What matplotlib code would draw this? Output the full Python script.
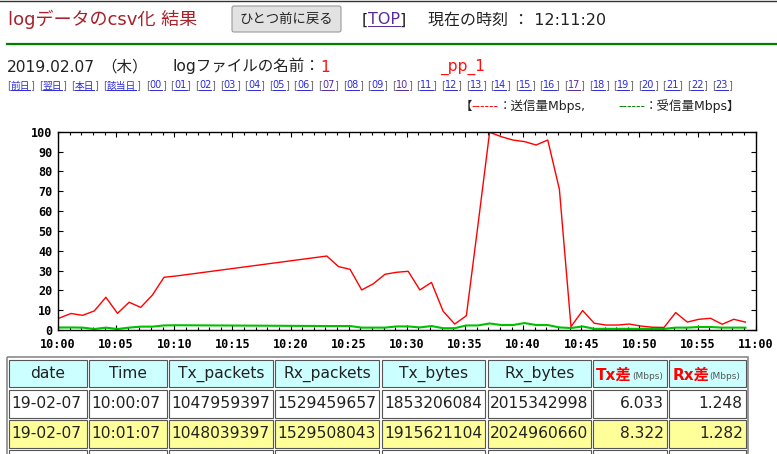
import matplotlib
matplotlib.use('Agg')
import matplotlib.pyplot as plt
from matplotlib.patches import Rectangle, FancyBboxPatch
from matplotlib.ticker import MultipleLocator, FuncFormatter

plt.rcParams['font.family'] = ['DejaVu Sans', 'Noto Sans CJK JP']

# --- chart data ---
times = ["10:00:07", "10:01:07", "10:02:07", "10:03:07", "10:04:07", "10:05:07",
         "10:06:07", "10:07:07", "10:08:07", "10:09:07", "10:10:07",
         "10:23:07", "10:24:07", "10:25:07", "10:26:07", "10:27:07", "10:28:07",
         "10:29:07", "10:30:07", "10:31:07", "10:32:07", "10:33:07", "10:34:07",
         "10:35:07", "10:36:07", "10:37:07", "10:38:07", "10:39:07", "10:40:07",
         "10:41:07", "10:42:07", "10:43:07", "10:44:07", "10:45:07", "10:46:07",
         "10:47:07", "10:48:07", "10:49:07", "10:50:07", "10:51:07", "10:52:07",
         "10:53:07", "10:54:07", "10:55:07", "10:56:07", "10:57:07", "10:58:07",
         "10:59:07"]
tx_mbps = [6.033, 8.322, 7.4, 9.6, 16.5, 8.4, 14.0, 11.4, 17.6, 26.6, 27.2,
           37.3, 32.0, 30.6, 20.2, 23.3, 28.1, 29.1, 29.6, 20.2, 24.0, 9.5, 3.0,
           7.2, 53.0, 99.7, 97.5, 95.8, 95.0, 93.3, 95.8, 71.0, 1.7, 9.8, 3.4,
           2.5, 2.5, 3.0, 2.0, 1.4, 1.3, 8.8, 4.0, 5.4, 5.9, 2.9, 5.4, 4.0]
rx_mbps = [1.248, 1.282, 1.2, 0.5, 1.2, 0.5, 1.2, 1.7, 1.7, 2.3, 2.4,
           2.0, 2.0, 2.0, 1.2, 1.2, 1.2, 1.8, 1.8, 1.3, 2.0, 0.9, 0.9,
           2.3, 2.3, 3.3, 2.5, 2.5, 3.5, 2.5, 2.5, 1.3, 1.0, 1.8, 0.6,
           0.6, 0.6, 0.6, 0.6, 0.6, 0.6, 1.2, 1.2, 1.5, 1.5, 1.2, 1.2, 1.2]

# --- table data ---
headers = ["date", "Time", "Tx_packets", "Rx_packets", "Tx_bytes", "Rx_bytes", "Tx差", "Rx差"]
row1 = ["19-02-07", "10:00:07", "1047959397", "1529459657", "1853206084", "2015342998", "6.033", "1.248"]
row2 = ["19-02-07", "10:01:07", "1048039397", "1529508043", "1915621104", "2024960660", "8.322", "1.282"]

day_links = ["前日", "翌日", "本日", "該当日"]
hour_links = ["00", "01", "02", "03", "04", "05", "06", "07", "08", "09", "10", "11",
              "12", "13", "14", "15", "16", "17", "18", "19", "20", "21", "22", "23"]

W, H = 777, 454
fig = plt.figure(figsize=(W / 100, H / 100), dpi=100)
bg = fig.add_axes([0, 0, 1, 1])
bg.set_xlim(0, W)
bg.set_ylim(H, 0)
bg.set_autoscale_on(False)
bg.axis('off')
rend = fig.canvas.get_renderer()

TXT = '#222222'
LINK = '#2a2adf'
VISITED = '#5a2a9a'


def put(x, y, s, size, color=TXT, underline=False, **kw):
    t = bg.text(x, y, s, fontsize=size, color=color, va='baseline', ha='left', **kw)
    bb = t.get_window_extent(rend)
    x1 = x + bb.width
    if underline:
        bg.plot([x, x1], [y + 1.5, y + 1.5], color=color, lw=0.7)
    return x1


# top strip
bg.plot([0, W], [0.5, 0.5], color='#333333', lw=1)
put(8, 25, "logデータのcsv化 結果", 13, color='#a8222a')

btn = FancyBboxPatch((232, 6), 109, 26, boxstyle="round,pad=0,rounding_size=2",
                     facecolor='#e2e2e2', edgecolor='#9a9a9a', lw=0.8)
bg.add_patch(btn)
bg.text(286.5, 19.5, "ひとつ前に戻る", fontsize=9.6, color=TXT, ha='center', va='center')

x = put(362, 24.5, "[", 11.5)
x = put(x - 0.5, 24.5, "TOP", 11.5, color=VISITED, underline=True)
put(x - 0.5, 24.5, "]", 11.5)
put(428, 24.5, "現在の時刻 ： 12:11:20", 11.5)

bg.plot([7, W], [44.3, 44.3], color='#008000', lw=1.6)

# date / file line
put(7, 71.5, "2019.02.07", 11.2)
put(101, 71.5, "（木）", 11.2, family=['Noto Sans CJK JP'])
x = put(172, 71.5, "logファイルの名前：", 11.2)
put(x + 1, 71.5, "1", 11.2, color='#ff1010')
put(440, 70.5, "_pp_1", 11.2, color='#ff1010')

# link row
link_x = [7, 39, 71, 103]
for lx, name in zip(link_x, day_links):
    x = put(lx, 88.5, "[", 7, color='#666666')
    x = put(x - 0.2, 88.5, name, 7, color=LINK, underline=True)
    put(x - 0.2, 88.5, "]", 7, color='#666666')
for i, name in enumerate(hour_links):
    c = VISITED if name in ("07", "10", "17") else LINK
    x = put(146 + i * 24.6, 88.5, "[", 7, color='#666666')
    x = put(x - 0.2, 88.5, name, 7, color=c, underline=True)
    put(x - 0.2, 88.5, "]", 7, color='#666666')

# legend line
x = put(460, 110, "【", 9)
x = put(x - 1, 110, "------", 9, color='#ff0000')
put(x, 110, "：送信量Mbps,", 9)
x = put(618, 110, "------", 9, color='#008000')
put(x, 110, "：受信量Mbps】", 9)

# --- gnuplot style chart ---
ax = fig.add_axes([58 / W, (H - 330) / H, 697.7 / W, 198.3 / H])


def to_min(s):
    h, m, sec = s.split(':')
    return (int(h) - 10) * 60 + int(m) + int(sec) / 60


xm = [to_min(t) for t in times]
ax.plot(xm, rx_mbps, color='#00c000', lw=1.5)
ax.plot(xm, tx_mbps, color='#ff0000', lw=1.0)
ax.set_xlim(0, 60)
ax.set_ylim(0, 100)
ax.xaxis.set_major_locator(MultipleLocator(5))
ax.xaxis.set_minor_locator(MultipleLocator(1))
ax.yaxis.set_major_locator(MultipleLocator(10))
ax.xaxis.set_major_formatter(FuncFormatter(lambda v, p: "%d:%02d" % (10 + int(v) // 60, int(v) % 60)))
ax.tick_params(which='both', direction='in', top=True, right=True, width=0.8)
ax.tick_params(which='major', length=3.5)
ax.tick_params(which='minor', length=2)
ax.tick_params(axis='y', pad=4)
ax.tick_params(axis='x', pad=6)
for lab in ax.get_xticklabels() + ax.get_yticklabels():
    lab.set_fontfamily('DejaVu Sans Mono')
    lab.set_fontweight('bold')
    lab.set_fontsize(8.5)
for sp in ax.spines.values():
    sp.set_linewidth(1)

# --- table ---
col_x = [(9.3, 86.7), (89.3, 166.7), (169.3, 272.7), (275.3, 379), (381.7, 485),
         (487.7, 591), (593.3, 666.7), (669.3, 745.7)]
row_y = [(360, 387.3), (390, 417.7), (420, 447.7), (450, 478)]
row_bg = ['#ccffff', '#ffffff', '#ffff99', '#ffffff']

bg.add_patch(Rectangle((6.7, 357.3), 748.3 - 6.7, 120, facecolor='none',
                       edgecolor='#8a8a8a', lw=1.2))
for (y0, y1), fc in zip(row_y, row_bg):
    for (x0, x1) in col_x:
        bg.add_patch(Rectangle((x0, y0), x1 - x0, y1 - y0, facecolor=fc,
                               edgecolor='#555555', lw=0.8))

for i, (x0, x1) in enumerate(col_x):
    yc = 373.7
    if i < 6:
        bg.text((x0 + x1) / 2, yc, headers[i], fontsize=11.2, color=TXT, ha='center', va='center')
    else:
        xx = put(x0 + 3, 379.5, headers[i], 11, color='#ff0000', fontweight='bold')
        put(xx, 379, "(Mbps)", 6.5, color='#555555')

for row, (y0, y1) in zip([row1, row2], row_y[1:3]):
    for i, (x0, x1) in enumerate(col_x):
        yc = (y0 + y1) / 2
        if i < 6:
            bg.text(x0 + 2.5, yc, row[i], fontsize=11.2, color=TXT, ha='left', va='center')
        else:
            bg.text(x1 - 3, yc, row[i], fontsize=11.2, color=TXT, ha='right', va='center')

fig.savefig('out.png', dpi=100)
